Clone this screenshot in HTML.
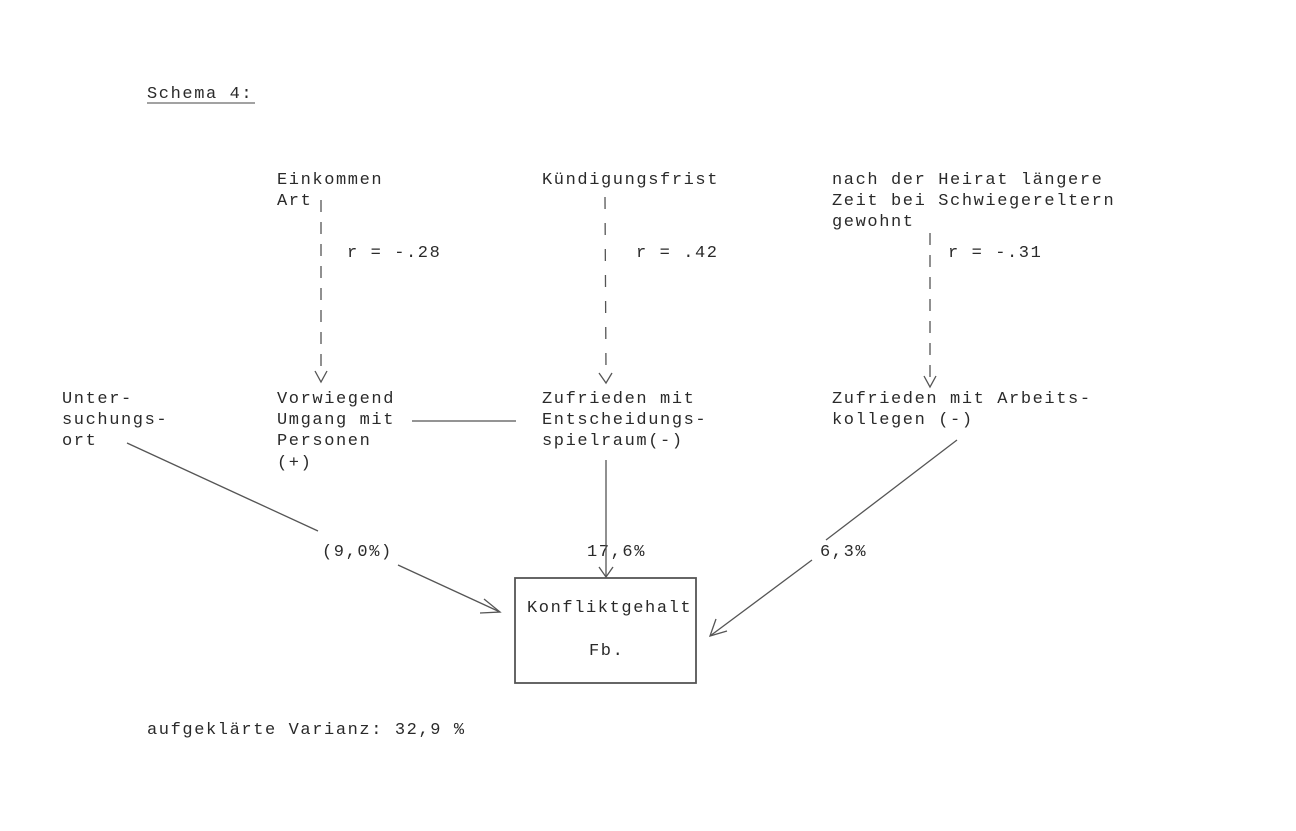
<!DOCTYPE html>
<html><head><meta charset="utf-8"><style>
html,body{margin:0;padding:0;background:#fff;}
svg{display:block}
text{font-family:"Liberation Mono",monospace;font-size:17px;fill:#2a2a2a;letter-spacing:1.6px;}
</style></head><body>
<svg width="1296" height="831" viewBox="0 0 1296 831" xmlns="http://www.w3.org/2000/svg">
<rect width="1296" height="831" fill="#fff"/>
<g>
<text x="147" y="98">Schema 4:</text>
<line x1="147" y1="103" x2="255" y2="103" stroke="#444" stroke-width="1"/>

<text x="277" y="184">Einkommen</text>
<text x="277" y="205">Art</text>
<text x="542" y="184">Kündigungsfrist</text>
<text x="832" y="184">nach der Heirat längere</text>
<text x="832" y="205">Zeit bei Schwiegereltern</text>
<text x="832" y="226">gewohnt</text>

<text x="347" y="257">r = -.28</text>
<text x="636" y="257">r = .42</text>
<text x="948" y="257">r = -.31</text>

<text x="62" y="403">Unter-</text>
<text x="62" y="424">suchungs-</text>
<text x="62" y="445">ort</text>
<text x="277" y="403">Vorwiegend</text>
<text x="277" y="424">Umgang mit</text>
<text x="277" y="445">Personen</text>
<text x="277" y="467">(+)</text>
<text x="542" y="403">Zufrieden mit</text>
<text x="542" y="424">Entscheidungs-</text>
<text x="542" y="445">spielraum(-)</text>
<text x="832" y="403">Zufrieden mit Arbeits-</text>
<text x="832" y="424">kollegen (-)</text>

<text x="322" y="556">(9,0%)</text>
<text x="587" y="556">17,6%</text>
<text x="820" y="556">6,3%</text>

<text x="147" y="734">aufgeklärte Varianz: 32,9 %</text>
</g>
<g stroke="#555" stroke-width="1.3" fill="none">
<line x1="321" y1="200" x2="321" y2="372" stroke-dasharray="12,10"/>
<polyline points="315,371 321,382 327,371"/>
<line x1="605" y1="197" x2="606" y2="372" stroke-dasharray="12,14"/>
<polyline points="599,373 606,383 612,373"/>
<line x1="930" y1="233" x2="930" y2="378" stroke-dasharray="12,10"/>
<polyline points="924,376 930,387 936,376"/>

<line x1="412" y1="421" x2="516" y2="421"/>
<line x1="606" y1="460" x2="606" y2="576"/>
<polyline points="599,567 606,577 613,567"/>

<line x1="127" y1="443" x2="318" y2="531"/>
<line x1="398" y1="565" x2="500" y2="612"/>
<polyline points="484,599 500,612 480,613"/>

<line x1="957" y1="440" x2="826" y2="540"/>
<line x1="812" y1="560" x2="710" y2="636"/>
<polyline points="716,619 710,636 727,631"/>

<rect x="515" y="578" width="181" height="105" stroke-width="1.8"/>
</g>
<text x="527" y="612">Konfliktgehalt</text>
<text x="589" y="655">Fb.</text>
</svg>
</body></html>
